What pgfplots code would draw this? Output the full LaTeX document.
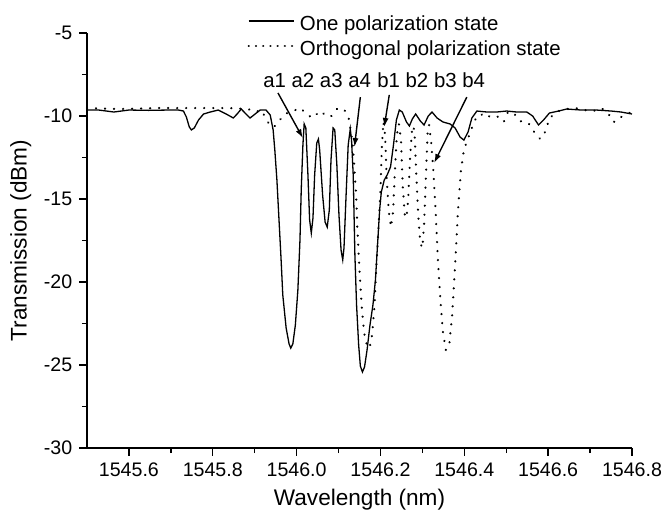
\documentclass[border=0pt]{standalone}
\usepackage{fontspec}
\setmainfont{Liberation Sans}
\usepackage{pgfplots}
\usepackage{pgfplotstable}
\pgfplotsset{compat=1.18}
\usetikzlibrary{arrows.meta}

% x = wavelength - 1545 nm (offset keeps TeX arithmetic precise), y = transmission (dBm)
\pgfplotstableread{
x y
0.500 -9.64
0.528 -9.64
0.564 -9.76
0.600 -9.64
0.647 -9.66
0.695 -9.64
0.718 -9.64
0.730 -9.70
0.737 -10.06
0.744 -10.66
0.749 -10.84
0.756 -10.72
0.766 -10.24
0.778 -9.88
0.794 -9.76
0.813 -9.64
0.832 -9.88
0.849 -10.12
0.858 -9.88
0.868 -9.58
0.877 -9.82
0.889 -10.12
0.901 -9.88
0.913 -9.64
0.927 -9.64
0.937 -9.94
0.944 -10.84
0.948 -12.05
0.953 -13.86
0.958 -16.26
0.963 -18.67
0.967 -20.78
0.975 -22.77
0.982 -23.73
0.986 -23.98
0.991 -23.73
0.997 -22.59
1.003 -20.48
1.008 -17.47
1.011 -14.46
1.015 -11.75
1.018 -10.48
1.022 -10.72
1.027 -13.55
1.031 -16.26
1.035 -17.05
1.039 -16.14
1.043 -13.55
1.048 -11.63
1.052 -11.39
1.055 -12.05
1.062 -14.76
1.068 -16.39
1.073 -16.69
1.078 -15.66
1.082 -12.65
1.087 -10.72
1.091 -10.84
1.096 -12.95
1.101 -15.96
1.106 -18.07
1.110 -18.67
1.113 -17.95
1.118 -14.76
1.123 -11.75
1.128 -10.78
1.131 -11.45
1.135 -13.55
1.137 -15.96
1.139 -18.37
1.143 -21.39
1.148 -23.80
1.152 -25.06
1.157 -25.42
1.162 -25.12
1.168 -24.10
1.175 -22.59
1.182 -21.39
1.188 -19.88
1.193 -17.77
1.198 -15.66
1.202 -14.58
1.209 -13.86
1.216 -13.55
1.224 -13.07
1.231 -11.75
1.238 -10.24
1.245 -9.64
1.252 -9.76
1.262 -10.36
1.269 -10.60
1.276 -10.18
1.284 -9.88
1.295 -10.30
1.304 -10.54
1.314 -10.00
1.323 -9.76
1.335 -10.12
1.349 -10.36
1.366 -10.48
1.378 -10.72
1.390 -11.27
1.399 -11.45
1.409 -10.96
1.418 -10.12
1.430 -9.70
1.454 -9.76
1.477 -9.76
1.501 -9.70
1.525 -9.76
1.549 -9.76
1.563 -10.00
1.577 -10.54
1.589 -10.24
1.603 -9.82
1.625 -9.70
1.644 -9.58
1.679 -9.64
1.715 -9.64
1.750 -9.70
1.774 -9.76
1.800 -9.88
}\solidtable

\pgfplotstableread{
x y
0.500 -9.52
0.576 -9.58
0.671 -9.52
0.766 -9.52
0.837 -9.52
0.884 -9.58
0.903 -9.76
0.915 -9.64
0.925 -10.06
0.937 -10.60
0.946 -10.66
0.956 -10.36
0.972 -9.88
0.991 -9.70
1.010 -9.52
1.022 -9.88
1.039 -10.12
1.055 -9.70
1.069 -9.94
1.081 -10.06
1.098 -9.52
1.114 -9.64
1.124 -10.12
1.130 -11.02
1.135 -12.05
1.138 -13.25
1.142 -14.76
1.145 -16.87
1.150 -19.28
1.155 -21.39
1.161 -23.07
1.168 -23.85
1.174 -23.98
1.180 -23.19
1.186 -21.39
1.190 -19.10
1.195 -16.87
1.200 -14.46
1.203 -12.05
1.207 -10.36
1.211 -11.14
1.215 -13.86
1.220 -15.78
1.225 -16.69
1.230 -15.78
1.234 -13.55
1.239 -11.14
1.244 -10.48
1.249 -11.45
1.253 -14.16
1.258 -15.96
1.262 -16.14
1.266 -15.06
1.271 -12.35
1.276 -10.60
1.281 -10.84
1.285 -13.25
1.290 -15.96
1.295 -17.65
1.300 -17.95
1.304 -16.57
1.309 -13.25
1.313 -10.72
1.316 -10.54
1.321 -11.57
1.326 -13.25
1.332 -15.96
1.337 -18.67
1.343 -21.08
1.349 -23.01
1.356 -24.10
1.364 -23.80
1.371 -21.99
1.378 -18.98
1.385 -15.66
1.392 -13.25
1.399 -12.05
1.409 -11.33
1.418 -10.72
1.428 -10.12
1.440 -9.88
1.451 -10.12
1.466 -9.94
1.482 -10.06
1.494 -10.36
1.504 -9.76
1.518 -9.82
1.532 -10.30
1.553 -10.42
1.565 -10.90
1.575 -11.27
1.582 -11.39
1.594 -10.90
1.603 -10.12
1.625 -9.70
1.644 -9.58
1.665 -9.52
1.686 -9.64
1.708 -9.70
1.727 -9.52
1.743 -9.82
1.755 -10.36
1.765 -10.30
1.774 -10.06
1.793 -9.82
1.800 -9.76
}\dottedtable

\begin{document}
\fontsize{10.2pt}{12pt}\selectfont
\begin{tikzpicture}
\useasboundingbox (-43.5pt,-30.5pt) rectangle (287.5pt,224pt);
\begin{axis}[
  at={(0pt,0pt)}, anchor=south west,
  scale only axis, width=272.5pt, height=207.5pt,
  xmin=0.5, xmax=1.8, ymin=-30, ymax=-5,
  clip=false,
  axis x line*=bottom, axis y line*=left,
  axis line style={line width=0.7pt, black},
  xtick={0.6,0.8,1.0,1.2,1.4,1.6,1.8},
  xticklabels={1545.6,1545.8,1546.0,1546.2,1546.4,1546.6,1546.8},
  minor xtick={0.7,0.9,1.1,1.3,1.5,1.7},
  ytick={-30,-25,-20,-15,-10,-5},
  minor ytick={-27.5,-22.5,-17.5,-12.5,-7.5},
  tick align=outside,
  major tick length=3.8pt, minor tick length=2.5pt,
  every tick/.style={black, line width=0.7pt},
  tick label style={font=\fontsize{9.8pt}{11pt}\selectfont},
  /pgf/number format/assume math mode=true,
  yticklabel style={/pgf/number format/fixed},
  xlabel={Wavelength (nm)},
  ylabel={Transmission (dBm)},
  label style={font=\fontsize{11.3pt}{13pt}\selectfont},
  xlabel style={at={(axis description cs:0.5,0)}, anchor=base, yshift=-28.5pt},
  ylabel style={at={(axis description cs:-0.1215,0.5)}, anchor=center},
  legend style={at={(axis cs:0.882,-3.92)}, anchor=north west, draw=none, fill=none,
    inner sep=0pt, row sep=2.5pt,
    nodes={inner sep=0pt, text height=7.5pt, text depth=2.5pt},
    /tikz/every odd column/.append style={column sep=2.5pt}},
  legend cell align=left,
  legend image code/.code={\draw[#1] (0pt,2.2pt) -- (22.5pt,2.2pt);},
]
\addplot[black, line width=0.65pt, legend image post style={line width=0.6pt}] table[x=x, y=y] {\solidtable};
\addlegendentry{One polarization state}
\addplot[black, line width=1.2pt, line cap=round, dash pattern=on 0.01pt off 4.5pt,
  legend image post style={dash pattern=on 0.01pt off 3.6pt}] table[x=x, y=y] {\dottedtable};
\addlegendentry{Orthogonal polarization state}

\node[anchor=base, inner sep=0pt] at (axis cs:1.049,-8.31) {a1 a2 a3 a4};
\node[anchor=base, inner sep=0pt] at (axis cs:1.321,-8.31) {b1 b2 b3 b4};
\draw[line width=0.7pt, -{Latex[length=4.5pt,width=3pt]}] (axis cs:0.9555,-8.61) -- (axis cs:1.015,-11.33);
\draw[line width=0.7pt, -{Latex[length=4.5pt,width=3pt]}] (axis cs:1.152,-8.86) -- (axis cs:1.138,-11.87);
\draw[line width=0.7pt, -{Latex[length=4.5pt,width=3pt]}] (axis cs:1.221,-8.73) -- (axis cs:1.209,-10.66);
\draw[line width=0.7pt, -{Latex[length=4.5pt,width=3pt]}] (axis cs:1.406,-8.86) -- (axis cs:1.328,-12.83);
\end{axis}
\end{tikzpicture}
\end{document}
